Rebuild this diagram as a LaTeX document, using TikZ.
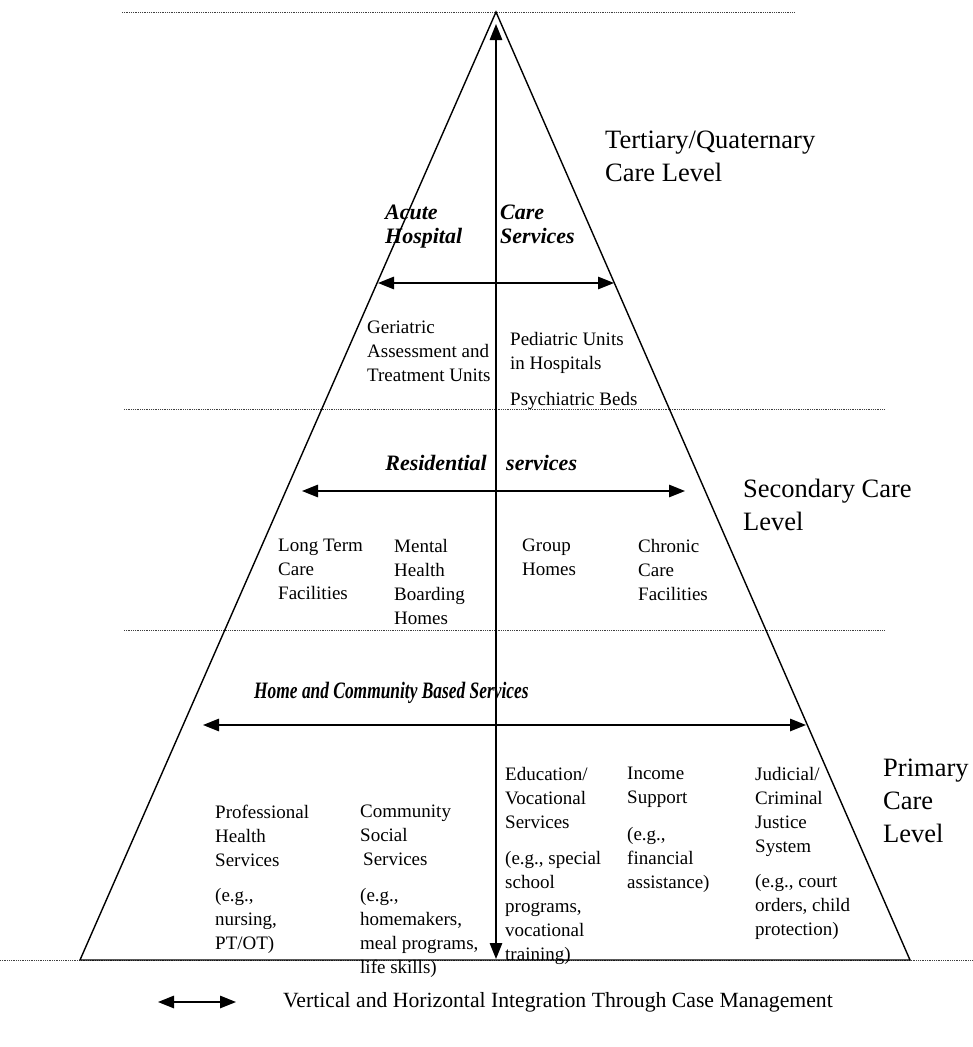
\documentclass[tikz,border=0pt]{standalone}
\usepackage{fontspec}
\setmainfont{Liberation Serif}
\usetikzlibrary{arrows.meta}
\begin{document}
\begin{tikzpicture}[x=1bp,y=-1bp,
  dots/.style={line width=0.8bp, densely dotted, black!75},
  edge/.style={line width=1.4bp, line join=miter},
  dbl/.style={line width=1.4bp, {Triangle[length=16bp,width=12.5bp]}-{Triangle[length=16bp,width=12.5bp]}},
  body/.style={anchor=north west, inner sep=0pt, align=left, font=\fontsize{19bp}{24bp}\selectfont, execute at begin node=\strut},
  level/.style={anchor=north west, inner sep=0pt, align=left, font=\fontsize{26.5bp}{33bp}\selectfont, execute at begin node=\strut},
  head/.style={inner sep=0pt, align=left, font=\fontsize{22bp}{24bp}\selectfont\bfseries\itshape},
  legendtext/.style={anchor=west, inner sep=0pt, font=\fontsize{21.7bp}{24bp}\selectfont}
]
\useasboundingbox (0,0) rectangle (973,1047);

% dotted level lines
\coordinate (t1) at (122,12);   \coordinate (t2) at (795,12);
\coordinate (m1) at (124,409);  \coordinate (m2) at (885,409);
\coordinate (n1) at (124,630);  \coordinate (n2) at (885,630);
\coordinate (b1) at (0,960);    \coordinate (b2) at (973,960);
\draw[dots] (t1) -- (t2);
\draw[dots] (m1) -- (m2);
\draw[dots] (n1) -- (n2);
\draw[dots] (b1) -- (b2);

% pyramid
\coordinate (apex) at (496,12);
\coordinate (bl) at (80,960);
\coordinate (br) at (910,960);
\draw[edge] (apex) -- (bl) -- (br) -- cycle;

% vertical arrow
\coordinate (vt) at (496,24);
\coordinate (vb) at (496,959);
\draw[dbl] (vb) -- (vt);

% horizontal arrows
\coordinate (h1a) at (378,283); \coordinate (h1b) at (614,283);
\coordinate (h2a) at (302,491); \coordinate (h2b) at (685,491);
\coordinate (h3a) at (203,725); \coordinate (h3b) at (806,725);
\draw[dbl] (h1a) -- (h1b);
\draw[dbl] (h2a) -- (h2b);
\draw[dbl] (h3a) -- (h3b);

% level labels
\node[level] (tert) at (605,131) {Tertiary/Quaternary\\Care Level};
\node[level] (sec) at (743,479) {Secondary Care\\Level};
\node[level] (prim) at (883,759) {Primary\\Care\\Level};

% headings
\node[head, anchor=base west] (acute) at (385,243) {Acute\\[0pt]Hospital};
\node[head, anchor=base west] (care) at (500,243) {Care\\[0pt]Services};
\node[head, anchor=base east] (resid) at (487,470) {Residential};
\node[head, anchor=base west] (serv) at (506,470) {services};
\node[head, anchor=base west, font=\fontsize{23.5bp}{24bp}\selectfont\bfseries\itshape] (home) at (254,698) {\scalebox{0.74}[1]{Home and Community Based Services}};

% tertiary contents
\node[body] (geri) at (367,321) {Geriatric\\Assessment and\\Treatment Units};
\node[body] (pedi) at (510,332) {Pediatric Units\\in Hospitals};
\node[body] (psyc) at (510,388) {Psychiatric Beds};

% secondary contents
\node[body] (ltc) at (278,539) {Long Term\\Care\\Facilities};
\node[body] (mhb) at (394,539) {Mental\\Health\\Boarding\\Homes};
\node[body] (grp) at (522,539) {Group\\Homes};
\node[body] (chr) at (638,539) {Chronic\\Care\\Facilities};

% primary contents
\node[body] (prof) at (215,805) {Professional\\Health\\Services};
\node[body] (profe) at (215,888) {(e.g.,\\nursing,\\PT/OT)};
\node[body] (comm) at (360,805) {Community\\Social\\\hspace{3bp}Services};
\node[body] (comme) at (360,888) {(e.g.,\\homemakers,\\meal programs,\\life skills)};
\node[body] (edu) at (505,767) {Education/\\Vocational\\Services};
\node[body] (edue) at (505,851) {(e.g., special\\school\\programs,\\vocational\\training)};
\node[body] (inc) at (627,767) {Income\\Support};
\node[body] (ince) at (627,827) {(e.g.,\\financial\\assistance)};
\node[body] (jud) at (755,767) {Judicial/\\Criminal\\Justice\\System};
\node[body] (jude) at (755,874) {(e.g., court\\orders, child\\protection)};

% legend
\coordinate (la) at (158,1002); \coordinate (lb) at (236,1002);
\draw[dbl] (la) -- (lb);
\node[legendtext] (leg) at (283,1002) {Vertical and Horizontal Integration Through Case Management};
\end{tikzpicture}
\end{document}
